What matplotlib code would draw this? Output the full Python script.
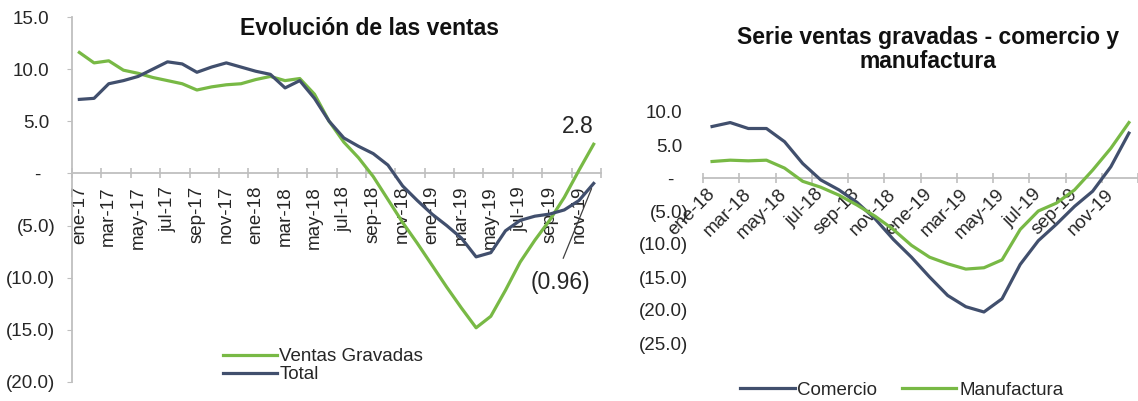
import matplotlib
matplotlib.use('Agg')
import matplotlib.pyplot as plt
import matplotlib.transforms as mtransforms
import numpy as np

plt.rcParams['font.family'] = ['Liberation Sans', 'DejaVu Sans']

# ---------------- data ----------------
# Left chart: monthly, ene-17 .. dic-19
etiquetas_izq = ['ene-17', 'mar-17', 'may-17', 'jul-17', 'sep-17', 'nov-17',
                 'ene-18', 'mar-18', 'may-18', 'jul-18', 'sep-18', 'nov-18',
                 'ene-19', 'mar-19', 'may-19', 'jul-19', 'sep-19', 'nov-19']
ventas_gravadas = [11.6, 10.6, 10.8, 9.9, 9.6, 9.2, 8.9, 8.6, 8.0, 8.3, 8.5, 8.6,
                   9.0, 9.3, 8.9, 9.1, 7.6, 5.0, 3.0, 1.5, -0.3, -2.5, -4.7, -6.7,
                   -8.8, -10.9, -12.9, -14.8, -13.7, -11.2, -8.5, -6.4, -4.5, -2.3, 0.3, 2.8]
total = [7.1, 7.2, 8.6, 8.9, 9.3, 10.0, 10.7, 10.5, 9.7, 10.2, 10.6, 10.2,
         9.8, 9.5, 8.2, 8.9, 7.2, 5.0, 3.4, 2.6, 1.9, 0.8, -1.2, -2.6,
         -3.9, -5.0, -6.2, -8.0, -7.6, -5.5, -4.5, -4.1, -3.9, -3.5, -2.6, -0.96]

# Right chart: monthly, ene-18 .. dic-19
etiquetas_der = ['ene-18', 'mar-18', 'may-18', 'jul-18', 'sep-18', 'nov-18',
                 'ene-19', 'mar-19', 'may-19', 'jul-19', 'sep-19', 'nov-19']
comercio = [7.8, 8.4, 7.5, 7.5, 5.5, 2.2, -0.3, -1.8, -3.7, -6.2, -9.3, -12.0,
            -15.0, -17.8, -19.5, -20.3, -18.3, -13.1, -9.5, -7.0, -4.3, -2.0, 1.7, 6.8]
manufactura = [2.5, 2.7, 2.6, 2.7, 1.5, -0.5, -1.4, -2.6, -4.1, -5.8, -7.8, -10.2,
               -12.0, -13.0, -13.8, -13.6, -12.4, -7.8, -5.0, -3.8, -1.8, 1.2, 4.5, 8.4]

VERDE = '#78B945'
AZUL = '#414F6D'
GRIS = '#BFBFBF'
TXT = '#262626'
FS = 13.5

W, H = 1138, 401
fig = plt.figure(figsize=(W / 100, H / 100), dpi=100)


def fmt(v):
    if abs(v) < 1e-9:
        return '-'
    if v > 0:
        return f'{v:.1f}'
    return f'({abs(v):.1f})'


def shift_ylabels(ax, vals):
    for lab, v in zip(ax.get_yticklabels(), vals):
        if abs(v) < 1e-9:
            dx = 10.5
        elif v > 0:
            dx = 4.5
        else:
            dx = 0
        lab.set_transform(lab.get_transform() +
                          mtransforms.ScaledTranslation(-dx / 72, 0, fig.dpi_scale_trans))


# ---------------- left chart ----------------
ax = fig.add_axes([72 / W, 19 / H, 529 / W, 365 / H])
x1 = np.arange(len(total))
ax.plot(x1, ventas_gravadas, color=VERDE, lw=2.3, label='Ventas Gravadas', zorder=3,
        solid_joinstyle='round')
ax.plot(x1, total, color=AZUL, lw=2.3, label='Total', zorder=3, solid_joinstyle='round')
ax.set_xlim(-0.5, 35.5)
ax.set_ylim(-20, 15)
for s in ['top', 'right']:
    ax.spines[s].set_visible(False)
ax.spines['bottom'].set_position(('data', 0))
ax.spines['bottom'].set_color(GRIS)
ax.spines['left'].set_color(GRIS)
ax.spines['bottom'].set_linewidth(1.3)
ax.spines['left'].set_linewidth(1.3)

yv = list(range(-20, 16, 5))
ax.set_yticks(yv)
ax.set_yticklabels([fmt(v) for v in yv])
ax.tick_params(axis='y', length=3.5, color=GRIS, pad=8.5, labelsize=FS, labelcolor=TXT)
shift_ylabels(ax, yv)

ax.set_xticks(np.arange(0, len(total), 2))
ax.set_xticklabels(etiquetas_izq, rotation=90, va='top', ha='center')
ax.tick_params(axis='x', which='major', length=0, pad=9, labelsize=FS, labelcolor=TXT)
ax.set_xticks(np.arange(-0.5, len(total) + 0.5, 2), minor=True)
ax.tick_params(axis='x', which='minor', direction='inout', length=7, color=GRIS, width=1.2)

ax.annotate(f'{ventas_gravadas[-1]:.1f}', xy=(x1[-1], ventas_gravadas[-1]),
            xytext=(0, 6), textcoords='offset pixels', ha='right', va='bottom',
            fontsize=16.5, color=TXT)
ax.annotate(f'({abs(total[-1]):.2f})', xy=(x1[-1], total[-1]),
            xytext=(-3, -88), textcoords='offset pixels', ha='right', va='top',
            fontsize=16.5, color=TXT,
            arrowprops=dict(arrowstyle='-', color='#404040', lw=0.9,
                            relpos=(0.45, 1.0), shrinkA=8, shrinkB=4))

ax.legend(loc='upper left', bbox_to_anchor=((223 - 72) / 529, (382 - 348) / 365),
          frameon=False, fontsize=FS, handlelength=2.9, handletextpad=0.1,
          borderpad=0, borderaxespad=0, labelspacing=0.05, labelcolor=TXT)

fig.text(370 / W, 1 - 35 / H, 'Evolución de las ventas', ha='center', va='baseline',
         fontsize=16.5, fontweight='bold', color='#111111')

# ---------------- right chart ----------------
ax2 = fig.add_axes([703 / W, 58 / H, 435 / W, 231 / H])
x2 = np.arange(len(comercio))
ax2.plot(x2, comercio, color=AZUL, lw=2.3, label='Comercio', zorder=3)
ax2.plot(x2, manufactura, color=VERDE, lw=2.3, label='Manufactura', zorder=3)
ax2.set_xlim(-0.5, 22.8)
ax2.set_ylim(-25, 10)
for s in ['top', 'right', 'left']:
    ax2.spines[s].set_visible(False)
ax2.spines['bottom'].set_position(('data', 0))
ax2.spines['bottom'].set_color(GRIS)
ax2.spines['bottom'].set_linewidth(1.3)

yv2 = list(range(-25, 11, 5))
ax2.set_yticks(yv2)
ax2.set_yticklabels([fmt(v) for v in yv2])
ax2.tick_params(axis='y', length=0, pad=10.5, labelsize=FS, labelcolor=TXT)
shift_ylabels(ax2, yv2)

ax2.set_xticks(np.arange(0, len(comercio), 2))
ax2.set_xticklabels(etiquetas_der, rotation=45, ha='right', va='center',
                    rotation_mode='anchor')
ax2.tick_params(axis='x', which='major', length=0, pad=10, labelsize=FS, labelcolor=TXT)
ax2.set_xticks(np.arange(-0.5, len(comercio) + 0.5, 2), minor=True)
ax2.tick_params(axis='x', which='minor', direction='inout', length=7, color=GRIS, width=1.2)

ax2.legend(loc='center', bbox_to_anchor=(0.457, (343 - 390) / 231), ncol=2,
           frameon=False, fontsize=FS, handlelength=2.9, handletextpad=0.15,
           columnspacing=1.3, borderpad=0, borderaxespad=0, labelcolor=TXT)

fig.text(928 / W, 1 - 26 / H, 'Serie ventas gravadas - comercio y\nmanufactura',
         ha='center', va='top', fontsize=16.5, fontweight='bold', color='#111111',
         linespacing=1.05)

fig.savefig('out.png', dpi=100)
